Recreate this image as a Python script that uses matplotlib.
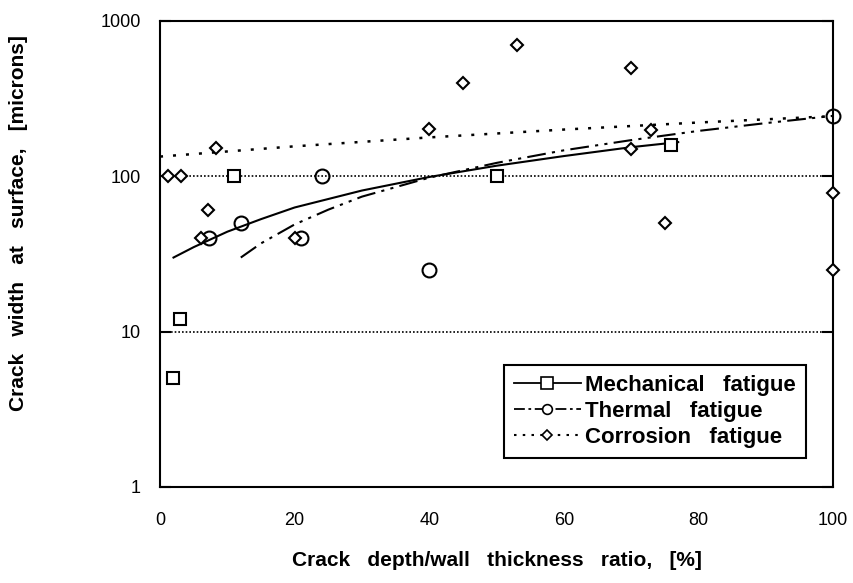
import matplotlib.pyplot as plt
from matplotlib.lines import Line2D
from matplotlib.ticker import FixedLocator, NullLocator

# DATA
mech_x = [2, 3, 11, 50, 76]
mech_y = [5, 12, 100, 100, 160]

therm_x = [7.3, 12, 21, 24, 40, 100]
therm_y = [40, 50, 40, 100, 25, 245]

corr_x = [1.2, 3.1, 6.1, 7.2, 8.3, 20.1, 40, 45, 53, 70, 70, 73, 75, 100, 100]
corr_y = [100, 100, 40, 61, 153, 40, 202, 400, 700, 500, 150, 200, 50, 78, 25]

# fitted curves
mech_fit_x = [2, 5, 10, 15, 20, 30, 40, 50, 60, 70, 77]
mech_fit_y = [30, 35, 44, 53, 63, 81, 99, 117, 135, 154, 166]

therm_fit_x = [12, 15, 20, 25, 30, 40, 50, 60, 70, 80, 90, 100]
therm_fit_y = [30, 37, 49, 61, 74, 98, 122, 147, 171, 196, 220, 245]

corr_fit_x = [0, 20, 40, 60, 80, 100]
corr_fit_y = [134, 156, 178, 200, 222, 244]

yticks = [1, 10, 100, 1000]
ytick_labels = ['1', '10', '100', '1000']
xticks = [0, 20, 40, 60, 80, 100]

plt.rcParams['font.family'] = ['Liberation Sans', 'DejaVu Sans']

fig = plt.figure(figsize=(8.54, 5.83), dpi=100)
ax = fig.add_axes([0.1874, 0.1647, 0.788, 0.7993])

# reference lines at 10 and 100
for yv in [10, 100]:
    ax.axhline(yv, color='black', lw=1.2, ls=(0, (1, 1.2)), zorder=1)

thermal_ls = (0, (9, 3, 1.5, 3, 1.5, 3))

ax.plot(mech_fit_x, mech_fit_y, color='black', lw=1.5, ls='-', zorder=2)
ax.plot(therm_fit_x, therm_fit_y, color='black', lw=1.5, ls=thermal_ls, zorder=2)
ax.plot(corr_fit_x, corr_fit_y, color='black', lw=1.8, ls=(0, (1.2, 4)), zorder=2)

ax.plot(mech_x, mech_y, ls='none', marker='s', ms=8.5, mfc='white', mec='black', mew=1.5,
        clip_on=False, zorder=3)
ax.plot(therm_x, therm_y, ls='none', marker='o', ms=10, mfc='none', mec='black', mew=1.5,
        clip_on=False, zorder=3)
ax.plot(corr_x, corr_y, ls='none', marker='D', ms=6, mfc='white', mec='black', mew=1.5,
        clip_on=False, zorder=3)

ax.set_yscale('log')
ax.set_ylim(1, 1000)
ax.set_xlim(0, 100)

ax.yaxis.set_major_locator(FixedLocator(yticks))
ax.set_yticklabels(ytick_labels)
ax.yaxis.set_minor_locator(NullLocator())
ax.set_xticks(xticks)
ax.set_xticklabels([str(v) for v in xticks])

ax.tick_params(axis='y', direction='in', length=8, width=1.5, left=True, right=True,
               labelsize=13, pad=14)
ax.tick_params(axis='x', length=0, labelsize=13, pad=18)

for s in ax.spines.values():
    s.set_linewidth(1.5)

ax.set_xlabel('Crack   depth/wall   thickness   ratio,   [%]', fontsize=15,
              fontweight='bold', labelpad=16)
ax.set_ylabel('Crack   width   at   surface,   [microns]', fontsize=15,
              fontweight='bold')
ax.yaxis.set_label_coords(-0.196, 0.567)

handles = [
    Line2D([], [], color='black', lw=1.3, ls='-', marker='s', ms=8, mfc='white', mew=1.2),
    Line2D([], [], color='black', lw=1.3, ls=(0, (6, 2, 1.5, 2)), marker='o', ms=7,
           mfc='white', mew=1.2),
    Line2D([], [], color='black', lw=1.5, ls=(0, (1.2, 3)), marker='D', ms=5,
           mfc='white', mew=1.2),
]
labels = ['Mechanical   fatigue', 'Thermal   fatigue', 'Corrosion   fatigue']
leg = ax.legend(handles, labels, loc='upper left', bbox_to_anchor=(0.511, 0.262),
                borderaxespad=0, fancybox=False, framealpha=1, edgecolor='black',
                handlelength=3.0, handletextpad=0.2, borderpad=0.45, labelspacing=0.22,
                prop={'size': 16, 'weight': 'bold'})
leg.get_frame().set_linewidth(1.5)

fig.savefig('out.png', dpi=100)
